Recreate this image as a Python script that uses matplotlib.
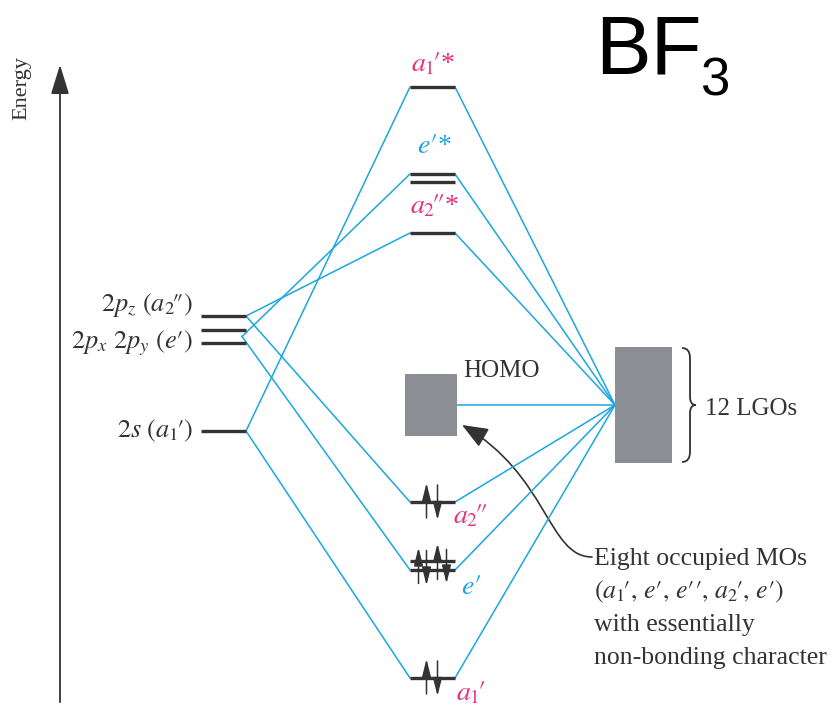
import matplotlib.pyplot as plt
from matplotlib.path import Path
from matplotlib.patches import PathPatch, Rectangle, FancyArrowPatch

plt.rcParams['font.family'] = ['Liberation Serif', 'DejaVu Serif']
plt.rcParams['mathtext.fontset'] = 'stix'

P = r"\!\prime"      # full-size prime tucked after a subscript
PP = r"\!\prime\!\prime"

# energies (arbitrary units)
ao_labels = [r"$2p_z\ (a_2" + PP + ")$", r"$2p_x\ 2p_y\ (e\prime)$", r"$2s\ (a_1" + P + ")$"]
ao_pz = 395
ao_pxy = [381, 368]
ao_2s = 280

mo_a1_star = 624
mo_e_star = [537, 529]
mo_a2_star = 478
mo_a2 = 209
mo_e = [150, 141]
mo_a1 = 33
homo_block = [275, 337]
lgo_block = [248, 364]

note_lines = ["Eight occupied MOs",
              r"$(a_1" + P + r",\, e\prime,\, e\prime\prime,\, a_2" + P + r",\, e\prime)$",
              "with essentially",
              "non-bonding character"]

# colours
dark = '#333333'
blue = '#1ba7dd'
pink = '#e5307e'
grey = '#8b8e95'

# column positions
ao_x = (201, 246)
mo_x = (410, 455)
lgo_x = (615, 672)

fig = plt.figure(figsize=(8.32, 7.11), dpi=100)
ax = fig.add_axes([0, 0, 1, 1])
ax.set_xlim(0, 832)
ax.set_ylim(0, 711)
ax.axis('off')

# energy axis
ax.annotate('', xy=(60, 649), xytext=(60, 6),
            arrowprops=dict(arrowstyle='-|>,head_length=1.3,head_width=0.4',
                            color=dark, lw=1.3, mutation_scale=14))
ax.text(22, 623, 'Energy', rotation=90, ha='center', va='center',
        fontsize=16, color=dark)

# correlation lines
lgo_mid = sum(lgo_block) / 2
pz_pt = (ao_x[1], ao_pz)
pxy_pt = (ao_x[1] - 4, sum(ao_pxy) / 2)
s_pt = (ao_x[1], ao_2s)
left_links = [(s_pt, mo_a1_star), (pxy_pt, mo_e_star[0]), (pz_pt, mo_a2_star),
              (pz_pt, mo_a2), (pxy_pt, mo_e[1]), (s_pt, mo_a1)]
for (x0, y0), e in left_links:
    ax.plot([x0, mo_x[0]], [y0, e], color=blue, lw=1.1)
for e in [mo_a1_star, mo_e_star[0], mo_a2_star, mo_a2, mo_e[1], mo_a1]:
    ax.plot([mo_x[1], lgo_x[0]], [e, lgo_mid], color=blue, lw=1.1)
ax.plot([mo_x[1], lgo_x[0]], [lgo_mid, lgo_mid], color=blue, lw=1.1)

# levels
ax.hlines([ao_pz] + ao_pxy + [ao_2s], ao_x[0], ao_x[1], color=dark, lw=2.4)
ax.hlines([mo_a1_star] + mo_e_star + [mo_a2_star, mo_a2] + mo_e + [mo_a1],
          mo_x[0], mo_x[1], color=dark, lw=2.4)

# blocks
ax.add_patch(Rectangle((405, homo_block[0]), 52, homo_block[1] - homo_block[0],
                       facecolor=grey, edgecolor='none', zorder=3))
ax.add_patch(Rectangle((lgo_x[0], lgo_block[0]), lgo_x[1] - lgo_x[0],
                       lgo_block[1] - lgo_block[0], facecolor=grey,
                       edgecolor='none', zorder=3))

# electrons
def spin(x, lo, hi, up):
    a, b = (lo, hi) if up else (hi, lo)
    ax.annotate('', xy=(x, b), xytext=(x, a),
                arrowprops=dict(arrowstyle='-|>,head_length=1.0,head_width=0.25',
                                color=dark, lw=1.1, mutation_scale=11,
                                shrinkA=0, shrinkB=0))

cx = sum(mo_x) / 2
for e in [mo_a2, mo_a1]:
    spin(cx - 6, e - 16, e + 19, True)
    spin(cx + 5, e - 18, e + 17, False)
em = sum(mo_e) / 2
spin(cx - 14, em - 18, em + 18, True)
spin(cx - 6, em - 20, em + 15, False)
spin(cx + 5, em - 14, em + 22, True)
spin(cx + 14, em - 18, em + 16, False)

# brace
bx, by0, by1 = 682, lgo_block[0] + 1, lgo_block[1] - 1
bm = (by0 + by1) / 2
verts = [(bx, by1), (bx + 8, by1), (bx + 8, by1 - 10), (bx + 8, bm + 8),
         (bx + 8, bm), (bx + 14, bm), (bx + 8, bm), (bx + 8, bm - 8),
         (bx + 8, by0 + 10), (bx + 8, by0), (bx, by0)]
codes = [Path.MOVETO, Path.CURVE3, Path.CURVE3, Path.LINETO, Path.CURVE3,
         Path.CURVE3, Path.CURVE3, Path.CURVE3, Path.LINETO, Path.CURVE3, Path.CURVE3]
ax.add_patch(PathPatch(Path(verts, codes), facecolor='none', edgecolor=dark, lw=1.3))

# text
fs = 18
ax.text(193, 711 - 311, ao_labels[0], ha='right', va='baseline', fontsize=19, color=dark)
ax.text(193, 711 - 348, ao_labels[1], ha='right', va='baseline', fontsize=19, color=dark)
ax.text(193, 711 - 437, ao_labels[2], ha='right', va='baseline', fontsize=19, color=dark)

ax.text(411, 711 - 71, r"$a_1" + P + "$*", ha='left', va='baseline', fontsize=20, color=pink)
ax.text(417, 711 - 153, r"$e\prime$*", ha='left', va='baseline', fontsize=20, color=blue)
ax.text(410, 711 - 213, r"$a_2" + PP + "$*", ha='left', va='baseline', fontsize=20, color=pink)
ax.text(453, 711 - 523, r"$a_2" + PP + "$", ha='left', va='baseline', fontsize=20, color=pink)
ax.text(461, 711 - 594, r"$e\prime$", ha='left', va='baseline', fontsize=20, color=blue)
ax.text(456, 711 - 700, r"$a_1" + P + "$", ha='left', va='baseline', fontsize=20, color=pink)

ax.text(463, 711 - 377, 'HOMO', ha='left', va='baseline', fontsize=fs, color=dark)
ax.text(705, 711 - 415, '12 LGOs', ha='left', va='baseline', fontsize=fs, color=dark)

for i, line in enumerate(note_lines):
    ax.text(594, 711 - 565 - 33 * i, line, ha='left', va='baseline', fontsize=18.5, color=dark)

# curved pointer from the note to the HOMO block
curve = Path([(592, 711 - 557), (548, 711 - 557), (548, 711 - 475), (462, 711 - 425)],
             [Path.MOVETO, Path.CURVE4, Path.CURVE4, Path.CURVE4])
ax.add_patch(FancyArrowPatch(path=curve, arrowstyle='-|>,head_length=1.0,head_width=0.4',
                             color=dark, lw=1.2, mutation_scale=16))

ax.text(595, 711 - 73, 'BF', ha='left', va='baseline', fontsize=60,
        family='Liberation Sans', color='black')
ax.text(700, 711 - 95, '3', ha='left', va='baseline', fontsize=38,
        family='Liberation Sans', color='black')

fig.savefig('out.png', dpi=100)
